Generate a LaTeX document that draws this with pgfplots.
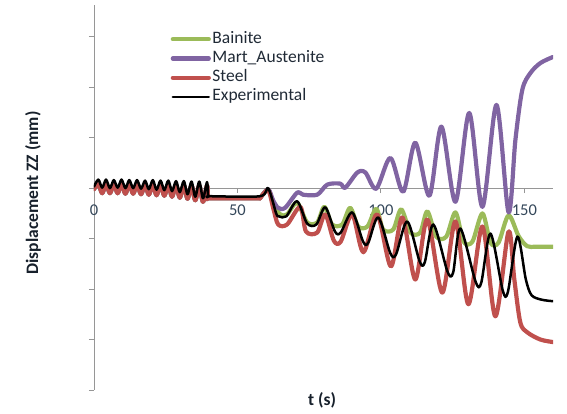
\documentclass[border=0pt]{standalone}
\usepackage{pgfplots}
\pgfplotsset{compat=1.18}
\usepackage{pgfplotstable}
\usepackage{fontspec}
\setmainfont{Carlito}
\definecolor{cBain}{RGB}{155,187,89}
\definecolor{cMart}{RGB}{128,100,162}
\definecolor{cSteel}{RGB}{192,80,77}
\definecolor{axisgray}{RGB}{150,150,150}
\definecolor{tickc}{HTML}{34475A}
\definecolor{legc}{HTML}{202A36}
\definecolor{labc}{HTML}{17202B}

% common part of the three simulations (t <= 57.9 s)
\pgfplotstableread{
t y
0 -0.02
1.5 0.08
2.85 -0.10
4.2 0.08
5.55 -0.10
6.9 0.08
8.25 -0.10
9.6 0.08
10.95 -0.11
12.3 0.08
13.65 -0.11
15.0 0.07
16.4 -0.12
17.8 0.07
19.1 -0.13
20.5 0.07
21.8 -0.14
23.2 0.07
24.5 -0.15
25.9 0.06
27.2 -0.17
28.6 0.06
29.9 -0.19
31.3 0.06
32.6 -0.21
34.0 0.05
35.3 -0.24
36.7 0.05
38.0 -0.27
39.4 0.05
39.8 -0.20
40.5 -0.20
57.9 -0.20
}\simcommon

\pgfplotstableread{
t y
57.9 -0.20
60.7 -0.02
62.5 -0.30
64.9 -0.52
67.3 -0.52
70.8 -0.29
74.3 -0.68
77.8 -0.68
80.3 -0.37
83.0 -0.72
86.5 -0.72
89.3 -0.39
92.1 -0.76
95.3 -0.76
98.4 -0.41
100.8 -0.82
104.3 -0.82
107.1 -0.42
110.3 -0.88
113.7 -0.88
116.2 -0.46
119.3 -0.96
122.8 -0.96
126.0 -0.48
128.8 -1.06
131.9 -1.06
135.4 -0.50
138.2 -1.08
141.0 -1.08
144.5 -0.54
148.0 -0.95
151.0 -1.15
154.0 -1.16
160.0 -1.16
}\bainite

\pgfplotstableread{
t y
57.9 -0.20
60.7 -0.02
62.5 -0.25
64.2 -0.39
66.6 -0.39
70.8 -0.09
72.9 -0.13
77.8 -0.13
81.3 0.07
85.8 0.09
87.6 0.01
91.8 0.31
94.6 0.31
98.4 -0.01
103.3 0.60
107.8 -0.07
112.0 0.90
116.9 -0.15
121.1 1.22
126.0 -0.27
130.8 1.49
135.4 -0.37
140.3 1.65
144.5 -0.48
146.9 0.96
149.3 1.95
152.1 2.28
155.6 2.48
160.0 2.60
}\mart

\pgfplotstableread{
t y
57.9 -0.20
60.7 -0.04
62.5 -0.40
64.2 -0.72
67.3 -0.72
71.9 -0.37
73.9 -0.86
77.8 -0.88
80.6 -0.52
83.6 -1.04
86.0 -1.06
90.0 -0.52
93.9 -1.27
98.7 -0.52
103.5 -1.55
107.5 -0.58
112.0 -1.81
116.2 -0.62
121.4 -2.07
126.0 -0.66
130.5 -2.30
135.4 -0.76
139.9 -2.54
144.5 -0.86
146.5 -1.80
148.6 -2.66
151.1 -2.86
155.6 -3.00
160.0 -3.05
}\steel

\pgfplotstableread{
t y
0 0.03
1.5 0.17
2.85 0.01
4.2 0.17
5.55 0.0
6.9 0.16
8.25 0.01
9.6 0.17
10.95 0.0
12.3 0.16
13.65 0.0
15.0 0.16
16.4 -0.01
17.8 0.15
19.1 -0.02
20.5 0.16
21.8 -0.03
23.2 0.15
24.5 -0.04
25.9 0.15
27.2 -0.06
28.6 0.14
29.9 -0.08
31.3 0.14
32.6 -0.12
34.0 0.13
35.3 -0.17
36.7 0.13
38.0 -0.20
39.4 0.12
39.8 -0.16
40.5 -0.16
57.9 -0.16
60.7 0.0
63.5 -0.50
64.5 -0.56
67.0 -0.56
70.8 -0.26
74.3 -0.70
77.5 -0.72
80.6 -0.38
84.0 -0.86
86.0 -0.88
90.0 -0.48
93.8 -1.06
95.6 -1.08
99.1 -0.58
103.3 -1.29
105.3 -1.31
109.2 -0.66
113.5 -1.45
115.3 -1.47
118.3 -0.72
123.2 -1.65
125.2 -1.67
127.7 -0.80
133.0 -1.85
135.0 -1.87
138.2 -0.90
142.5 -2.03
144.3 -2.05
147.6 -0.96
150.5 -1.80
152.5 -2.12
156.0 -2.21
160.0 -2.24
}\expdata

\begin{document}
\begin{tikzpicture}
\begin{axis}[
  at={(0pt,0pt)}, anchor=south west,
  scale only axis, width=459pt, height=385pt,
  xmin=0, xmax=160, ymin=-4, ymax=3.63,
  axis x line=middle, axis y line=left,
  hide obscured x ticks=false,
  axis line style={draw=axisgray, line width=0.9pt, -},
  xtick={0,50,100,150}, ytick={-4,-3,-2,-1,0,1,2,3}, yticklabels={},
  tick align=outside, major tick length=5pt,
  tick style={draw=axisgray, line width=0.9pt},
  /pgf/number format/assume math mode=true,
  ticklabel style={font=\fontsize{16.5}{16.5}\selectfont, text=tickc},
  xticklabel style={anchor=north, yshift=-8pt},
  xlabel={t (s)},
  ylabel={Displacement ZZ (mm)},
  label style={font=\bfseries\fontsize{17.5}{20}\selectfont, text=labc},
  xlabel style={at={(axis description cs:0.497,-0.026)}, anchor=center},
  ylabel style={at={(axis description cs:-0.133,0.512)}, anchor=center},
  legend cell align=left,
  legend style={at={(axis description cs:0.1667,0.936)}, anchor=north west,
    draw=none, fill=none, inner sep=0pt, row sep=0.2pt,
    font=\fontsize{17.5}{19}\selectfont, text=legc,
    nodes={inner sep=1.5pt, text height=12pt, text depth=4pt}},
  legend image code/.code={\draw[#1] (0pt,0pt) -- (36pt,0pt);},
  every axis plot/.append style={line join=round, line cap=round},
]
\addplot[cBain, line width=4.2pt, smooth, forget plot] table[x=t,y=y] {\simcommon};
\addplot[cBain, line width=4.2pt, smooth] table[x=t,y=y] {\bainite};
\addlegendentry{Bainite}
\addplot[cMart, line width=4.2pt, smooth, forget plot] table[x=t,y=y] {\simcommon};
\addplot[cMart, line width=4.2pt, smooth] table[x=t,y=y] {\mart};
\addlegendentry{Mart\_Austenite}
\addplot[cSteel, line width=4.2pt, smooth, forget plot] table[x=t,y=y] {\simcommon};
\addplot[cSteel, line width=4.2pt, smooth] table[x=t,y=y] {\steel};
\addlegendentry{Steel}
\addplot[black, line width=2.5pt, smooth] table[x=t,y=y] {\expdata};
\addlegendentry{Experimental}
\end{axis}
\path (-94pt,-24pt) rectangle (473pt,390pt);
\end{tikzpicture}
\end{document}
